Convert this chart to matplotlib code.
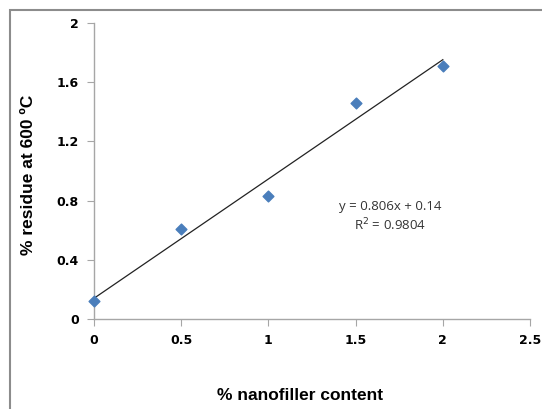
import numpy as np
import matplotlib.pyplot as plt
from matplotlib.patches import Rectangle

# residue data
filler = [0, 0.5, 1, 1.5, 2]
residue = [0.12, 0.61, 0.83, 1.46, 1.71]
slope = 0.806
intercept = 0.14
r2 = 0.9804

x_ticks = [0, 0.5, 1, 1.5, 2, 2.5]
x_labels = ["0", "0.5", "1", "1.5", "2", "2.5"]
y_ticks = [0, 0.4, 0.8, 1.2, 1.6, 2]
y_labels = ["0", "0.4", "0.8", "1.2", "1.6", "2"]

plt.rcParams["font.family"] = ["Liberation Sans", "DejaVu Sans"]

fig = plt.figure(figsize=(5.42, 4.09), dpi=100)
ax = fig.add_axes([94 / 542, 1 - 319 / 409, 436 / 542, 296 / 409])

# chart frame
fig.patches.append(Rectangle((10 / 542, -0.1), 1.2, 1 - 10 / 409 + 0.1,
                             transform=fig.transFigure, fill=False,
                             edgecolor="#8c8c8c", linewidth=1.5))

fit_x = np.array([0, 2])
ax.plot(fit_x, slope * fit_x + intercept, color="#222222", linewidth=0.9, zorder=2)
ax.scatter(filler, residue, marker="D", s=30, color="#4a7ebb", zorder=3,
           clip_on=False)

ax.text(1.7, 0.76, "y = 0.806x + 0.14", ha="center", va="center", fontsize=9.5,
        color="#333333", family=["Open Sans", "DejaVu Sans"])
ax.text(1.7, 0.635, "R$^2$ = %.4f" % r2, ha="center", va="center", fontsize=9.5,
        color="#333333", family=["Open Sans", "DejaVu Sans"])

ax.set_xlim(0, 2.5)
ax.set_ylim(0, 2)
ax.set_xticks(x_ticks)
ax.set_xticklabels(x_labels, fontsize=9, fontweight="bold", family="DejaVu Sans")
ax.set_yticks(y_ticks)
ax.set_yticklabels(y_labels, fontsize=9, fontweight="bold", family="DejaVu Sans")

for s in ["top", "right"]:
    ax.spines[s].set_visible(False)
for s in ["left", "bottom"]:
    ax.spines[s].set_color("#a6a6a6")
    ax.spines[s].set_linewidth(1)
ax.tick_params(axis="both", direction="out", length=5, color="#a6a6a6", pad=6)

ax.set_xlabel("% nanofiller content", fontsize=12.5, fontweight="bold", va="center")
ax.set_ylabel("% residue at 600 ºC", fontsize=12.5, fontweight="bold", va="center")
ax.xaxis.set_label_coords(0.473, -0.26)
ax.yaxis.set_label_coords(-0.151, 0.486)

fig.savefig("out.png", dpi=100)
